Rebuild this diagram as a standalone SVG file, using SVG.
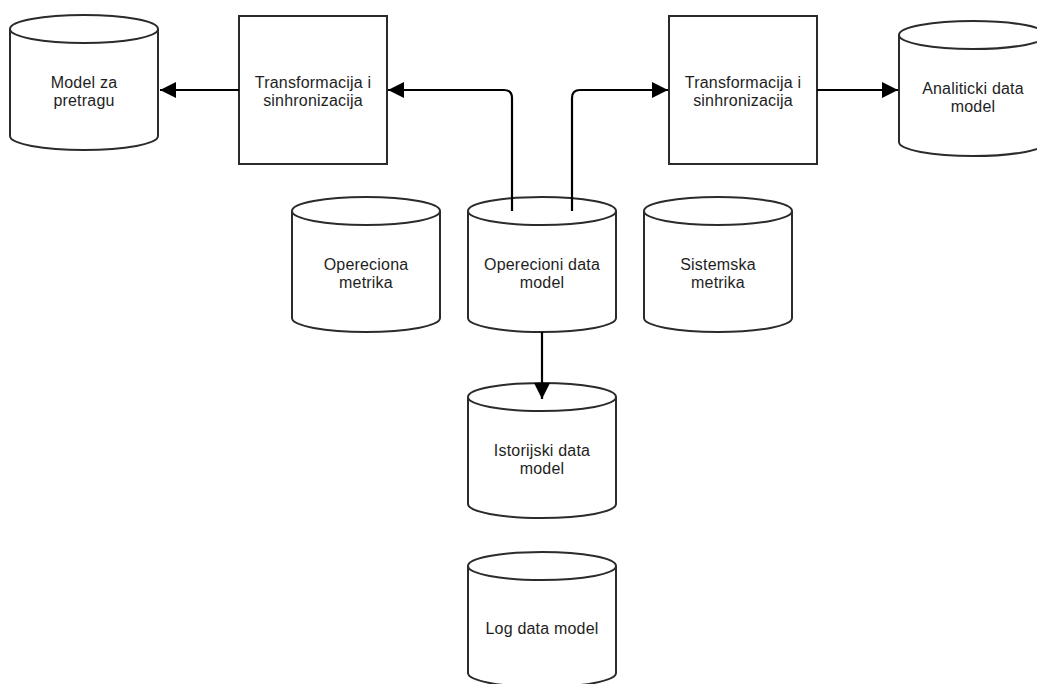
<svg xmlns="http://www.w3.org/2000/svg" width="1037" height="684" viewBox="0 0 1037 684">
<style>
.shape{fill:#fff;stroke:#2b2b2b;stroke-width:2}
.lbl{font-family:"Liberation Sans",Arial,sans-serif;font-size:16px;letter-spacing:0.2px;fill:#1e1e1e;text-anchor:middle}
.conn{fill:none;stroke:#000;stroke-width:2.2;marker-end:url(#arr)}
</style>
<defs>
<marker id="arr" markerUnits="userSpaceOnUse" markerWidth="18" markerHeight="18" refX="16" refY="8" orient="auto">
<path d="M0,0 L16,8 L0,16 Z" fill="#000"/>
</marker>
<path id="cyl" class="shape" d="M0,14 a74,14 0 0 0 148,0 a74,14 0 0 0 -148,0 v107 a74,14 0 0 0 148,0 v-107"/>
</defs>
<rect width="1037" height="684" fill="#fff"/>
<g id="model-za-pretragu" transform="translate(10,15)">
<use href="#cyl"/>
<text class="lbl" x="74" y="73">Model za</text>
<text class="lbl" x="74" y="91">pretragu</text>
</g>
<g id="transformacija-1">
<rect class="shape" x="239" y="16" width="148" height="148"/>
<text class="lbl" x="313" y="88">Transformacija i</text>
<text class="lbl" x="313" y="106">sinhronizacija</text>
</g>
<g id="transformacija-2">
<rect class="shape" x="669" y="16" width="148" height="148"/>
<text class="lbl" x="743" y="88">Transformacija i</text>
<text class="lbl" x="743" y="106">sinhronizacija</text>
</g>
<g id="analiticki-data-model" transform="translate(899,21)">
<use href="#cyl"/>
<text class="lbl" x="74" y="73">Analiticki data</text>
<text class="lbl" x="74" y="91">model</text>
</g>
<g id="opereciona-metrika" transform="translate(292,197)">
<use href="#cyl"/>
<text class="lbl" x="74" y="73">Opereciona</text>
<text class="lbl" x="74" y="91">metrika</text>
</g>
<g id="operecioni-data-model" transform="translate(468,197)">
<use href="#cyl"/>
<text class="lbl" x="74" y="73">Operecioni data</text>
<text class="lbl" x="74" y="91">model</text>
</g>
<g id="sistemska-metrika" transform="translate(644,197)">
<use href="#cyl"/>
<text class="lbl" x="74" y="73">Sistemska</text>
<text class="lbl" x="74" y="91">metrika</text>
</g>
<g id="istorijski-data-model" transform="translate(468,383)">
<use href="#cyl"/>
<text class="lbl" x="74" y="73">Istorijski data</text>
<text class="lbl" x="74" y="91">model</text>
</g>
<g id="log-data-model" transform="translate(468,552)">
<use href="#cyl"/>
<text class="lbl" x="74" y="82">Log data model</text>
</g>
<g id="connectors">
<path class="conn" d="M239,90 H160"/>
<path class="conn" d="M512,211 V98 Q512,90 504,90 H388"/>
<path class="conn" d="M572,211 V98 Q572,90 580,90 H668"/>
<path class="conn" d="M817,90 H898"/>
<path class="conn" d="M542,332 V399"/>
</g>
</svg>
